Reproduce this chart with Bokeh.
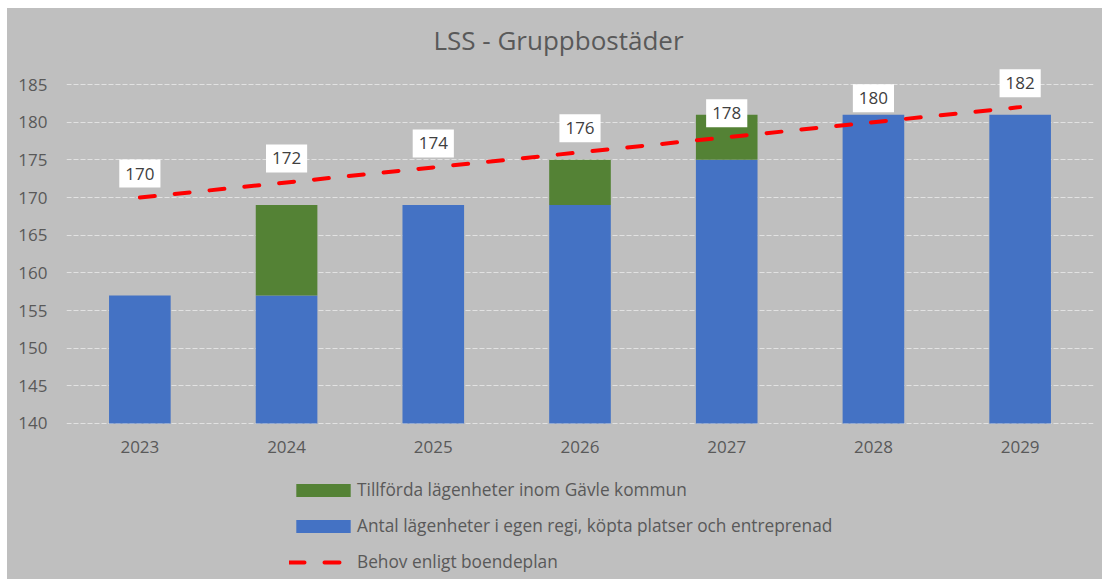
from bokeh.plotting import figure
from bokeh.models import ColumnDataSource, Legend, LegendItem, FactorRange
from bokeh.core.properties import value
from bokeh.transform import stack
from bokeh.embed import file_html
from bokeh.resources import INLINE

# ---- data ----
years = ["2023", "2024", "2025", "2026", "2027", "2028", "2029"]
egen = [157, 157, 169, 169, 175, 181, 181]          # Antal lägenheter i egen regi, köpta platser och entreprenad
tillforda = [0, 12, 0, 6, 6, 0, 0]                  # Tillförda lägenheter inom Gävle kommun
behov = [170, 172, 174, 176, 178, 180, 182]         # Behov enligt boendeplan
y_ticks = [140, 145, 150, 155, 160, 165, 170, 175, 180, 185]
Y_BASE = 140   # value axis starts here

BG = "#bfbfbf"
BLUE = "#4472c4"
GREEN = "#548235"
RED = "#ff0000"
TXT = "#595959"
FONT = "Open Sans"

src = ColumnDataSource(dict(year=years, egen=egen, tillforda=tillforda,
                            behov=behov, lbl=[str(v) for v in behov]))

# the frame reaches down into the legend area so the legend is not clipped
p = figure(x_range=FactorRange(*years, range_padding=0), y_range=(119.29, 188.19),
           width=1095, height=571, output_backend="svg", toolbar_location=None,
           min_border_left=59, min_border_right=9, min_border_top=52,
           min_border_bottom=0)
p.styles = {"margin-left": "7px", "margin-top": "8px", "background-color": BG}

p.background_fill_color = BG
p.border_fill_color = BG
p.outline_line_color = None

p.title.text = "LSS - Gruppbostäder"
p.title.align = "left"
p.title.offset = 367
p.title.standoff = 6
p.title.text_font = FONT
p.title.text_font_size = "26px"
p.title.text_font_style = "normal"
p.title.text_color = TXT

blue_r = p.vbar(x="year", bottom=Y_BASE, top="egen", width=0.42,
                color=BLUE, line_color=None, source=src)
green_r = p.vbar(x="year", bottom="egen", top=stack("egen", "tillforda"), width=0.42,
                 color=GREEN, line_color=None, source=src)

line = p.line("year", "behov", source=src, line_color=RED, line_width=4,
              line_dash="15 20", line_cap="round")

p.text(x="year", y="behov", text="lbl", source=src,
       y_offset=-24, text_align="center", text_baseline="middle",
       text_font=value(FONT), text_font_size="17px", text_color="#404040",
       background_fill_color="white", padding=dict(x=6, y=8))

# axes
for ax in (p.xaxis[0], p.yaxis[0]):
    ax.axis_line_color = None
    ax.major_tick_line_color = None
    ax.minor_tick_line_color = None
    ax.major_tick_out = 0
    ax.major_tick_in = 0
    ax.minor_tick_out = 0
    ax.major_label_text_font = FONT
    ax.major_label_text_font_size = "17px"
    ax.major_label_text_color = TXT
p.xaxis.fixed_location = Y_BASE
p.yaxis.ticker = y_ticks
p.yaxis.major_label_standoff = 19
p.xaxis.major_label_standoff = 18

p.xgrid.visible = False
p.ygrid.grid_line_color = "#e2e2e2"
p.ygrid.grid_line_dash = "5 2"
p.ygrid.grid_line_width = 1

legend = Legend(items=[
    LegendItem(label="Tillförda lägenheter inom Gävle kommun", renderers=[green_r]),
    LegendItem(label="Antal lägenheter i egen regi, köpta platser och entreprenad", renderers=[blue_r]),
    LegendItem(label="Behov enligt boendeplan", renderers=[line]),
], location=(223, 6), orientation="vertical",
    background_fill_alpha=0, border_line_color=None,
    glyph_width=68, glyph_height=16, label_standoff=0,
    spacing=13, padding=0, margin=0,
    label_text_font=FONT, label_text_font_size="17.3px", label_text_color=TXT)
p.add_layout(legend)

open("out.html", "w").write(file_html(p, INLINE))
